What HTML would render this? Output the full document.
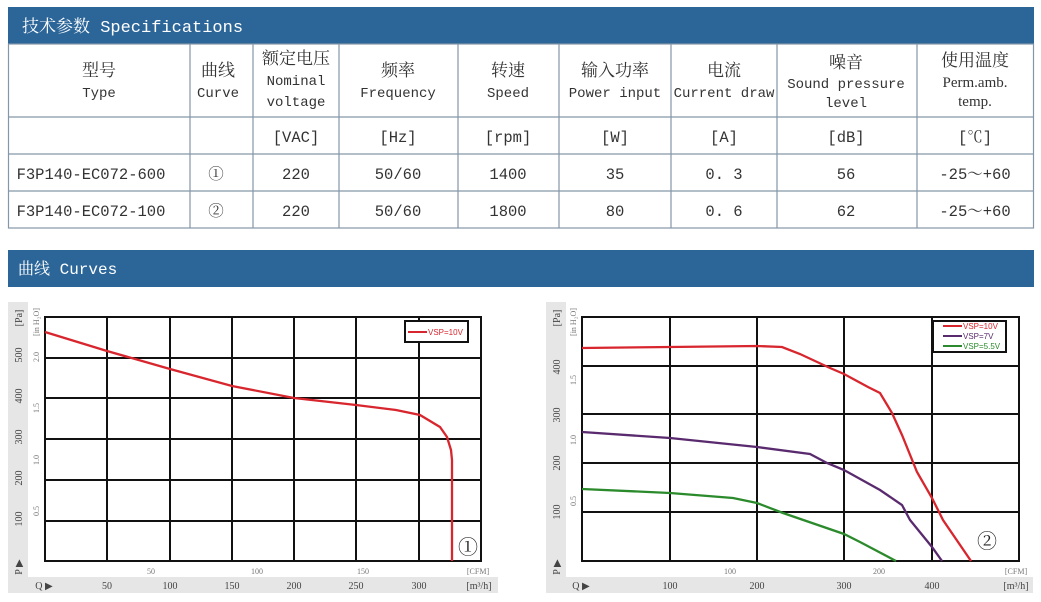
<!DOCTYPE html>
<html><head><meta charset="utf-8"><style>
html,body{margin:0;padding:0;background:#fff;}
svg{display:block}
.m{font-family:"Liberation Mono","Noto Serif CJK SC",monospace;}
.c{font-family:"Liberation Serif","Noto Serif CJK SC",serif;}
.s{font-family:"Liberation Serif",serif;}
</style></head><body>
<svg width="1041" height="602" viewBox="0 0 1041 602" xmlns="http://www.w3.org/2000/svg">
<rect x="8" y="7" width="1026" height="37" fill="#2c6699"/>
<text x="22" y="32" fill="#fff" font-size="17" class="m">技术参数 Specifications</text>
<g stroke="#8496a8" stroke-width="1.2" fill="none">
<rect x="8.5" y="44" width="1025" height="184"/>
<line x1="8" y1="117" x2="1034" y2="117"/><line x1="8" y1="154" x2="1034" y2="154"/><line x1="8" y1="191" x2="1034" y2="191"/>
<line x1="190" y1="44" x2="190" y2="228"/><line x1="253" y1="44" x2="253" y2="228"/><line x1="339" y1="44" x2="339" y2="228"/>
<line x1="458" y1="44" x2="458" y2="228"/><line x1="559" y1="44" x2="559" y2="228"/><line x1="671" y1="44" x2="671" y2="228"/>
<line x1="777" y1="44" x2="777" y2="228"/><line x1="917" y1="44" x2="917" y2="228"/>
</g>
<g fill="#333" text-anchor="middle" class="m" font-size="14">
<text x="99" y="76" font-size="17" class="c">型号</text><text x="99" y="97">Type</text>
<text x="218" y="76" font-size="17" class="c">曲线</text><text x="218" y="97">Curve</text>
<text x="296" y="64" font-size="17" class="c">额定电压</text><text x="296" y="85">Nominal</text><text x="296" y="106">voltage</text>
<text x="398" y="76" font-size="17" class="c">频率</text><text x="398" y="97">Frequency</text>
<text x="508" y="76" font-size="17" class="c">转速</text><text x="508" y="97">Speed</text>
<text x="615" y="76" font-size="17" class="c">输入功率</text><text x="615" y="97">Power input</text>
<text x="724" y="76" font-size="17" class="c">电流</text><text x="724" y="97">Current draw</text>
<text x="846" y="68" font-size="17" class="c">噪音</text><text x="846" y="88">Sound pressure</text><text x="846" y="107">level</text>
<text x="975" y="66" font-size="17" class="c">使用温度</text><text x="975" y="87" class="s" font-size="15">Perm.amb.</text><text x="975" y="106" class="s" font-size="15">temp.</text>
<g font-size="15.5" class="m">
<text x="296" y="142">[VAC]</text><text x="398" y="142">[Hz]</text><text x="508" y="142">[rpm]</text><text x="615" y="142">[W]</text><text x="724" y="142">[A]</text><text x="846" y="142">[dB]</text><text x="975" y="142">[℃]</text>
<text x="91" y="179">F3P140-EC072-600</text><text x="216" y="179">①</text><text x="296" y="179">220</text><text x="398" y="179">50/60</text><text x="508" y="179">1400</text><text x="615" y="179">35</text><text x="724" y="179">0. 3</text><text x="846" y="179">56</text><text x="975" y="179">-25～+60</text>
<text x="91" y="216">F3P140-EC072-100</text><text x="216" y="216">②</text><text x="296" y="216">220</text><text x="398" y="216">50/60</text><text x="508" y="216">1800</text><text x="615" y="216">80</text><text x="724" y="216">0. 6</text><text x="846" y="216">62</text><text x="975" y="216">-25～+60</text>
</g></g>
<rect x="8" y="250" width="1026" height="37" fill="#2c6699"/>
<text x="18" y="274" fill="#fff" font-size="16" class="m">曲线 Curves</text>

<rect x="8" y="302" width="490" height="291" fill="#e6e6e6"/>
<rect x="28" y="302" width="470" height="275" fill="#fff"/>
<rect x="45" y="317" width="436" height="244" fill="#fff" stroke="#111" stroke-width="2"/>
<g stroke="#111" stroke-width="2">
<line x1="107" y1="317" x2="107" y2="561"/><line x1="170" y1="317" x2="170" y2="561"/><line x1="232" y1="317" x2="232" y2="561"/><line x1="294" y1="317" x2="294" y2="561"/><line x1="356" y1="317" x2="356" y2="561"/><line x1="419" y1="317" x2="419" y2="561"/>
<line x1="45" y1="358" x2="481" y2="358"/><line x1="45" y1="398" x2="481" y2="398"/><line x1="45" y1="439" x2="481" y2="439"/><line x1="45" y1="480" x2="481" y2="480"/><line x1="45" y1="521" x2="481" y2="521"/>
</g>
<path d="M45,332 L107,351 L170,369 L232,386 L294,398 L356,405 L396,410 L420,415 L440,427 L447,437 L451,450 L452,460 L452,561" fill="none" stroke="#d8262e" stroke-width="2.3"/>
<rect x="405" y="321" width="63" height="21" fill="#fff" stroke="#111" stroke-width="2"/>
<line x1="408" y1="332" x2="427" y2="332" stroke="#d8262e" stroke-width="2"/>
<text x="428" y="335" font-size="8" fill="#d8262e" font-family="Liberation Sans,sans-serif">VSP=10V</text>
<text x="468" y="554" font-size="20" text-anchor="middle" class="c" fill="#222">①</text>
<g font-size="10" fill="#444" class="s" text-anchor="middle">
<text transform="translate(22,355) rotate(-90)">500</text><text transform="translate(22,396) rotate(-90)">400</text><text transform="translate(22,437) rotate(-90)">300</text><text transform="translate(22,478) rotate(-90)">200</text><text transform="translate(22,519) rotate(-90)">100</text>
<text transform="translate(22,318) rotate(-90)">[Pa]</text><text transform="translate(22,567) rotate(-90)">P ▶</text>
<g font-size="8" fill="#777"><text transform="translate(39,357) rotate(-90)">2.0</text><text transform="translate(39,408) rotate(-90)">1.5</text><text transform="translate(39,460) rotate(-90)">1.0</text><text transform="translate(39,511) rotate(-90)">0.5</text><text transform="translate(39,322) rotate(-90)">[in H₂O]</text>
<text x="151" y="574">50</text><text x="257" y="574">100</text><text x="363" y="574">150</text><text x="478" y="574">[CFM]</text></g>
<text x="107" y="589">50</text><text x="170" y="589">100</text><text x="232" y="589">150</text><text x="294" y="589">200</text><text x="356" y="589">250</text><text x="419" y="589">300</text><text x="479" y="589">[m³/h]</text>
<text x="44" y="589">Q ▶</text>
</g>

<rect x="546" y="302" width="487" height="291" fill="#e6e6e6"/>
<rect x="566" y="302" width="467" height="275" fill="#fff"/>
<rect x="582" y="317" width="437" height="244" fill="#fff" stroke="#111" stroke-width="2"/>
<g stroke="#111" stroke-width="2">
<line x1="670" y1="317" x2="670" y2="561"/><line x1="757" y1="317" x2="757" y2="561"/><line x1="844" y1="317" x2="844" y2="561"/><line x1="932" y1="317" x2="932" y2="561"/>
<line x1="582" y1="366" x2="1019" y2="366"/><line x1="582" y1="414" x2="1019" y2="414"/><line x1="582" y1="463" x2="1019" y2="463"/><line x1="582" y1="512" x2="1019" y2="512"/>
</g>
<path d="M582,348 L670,347 L757,346 L782,347 L800,354 L830,368 L844,374 L868,387 L880,393 L892,413 L902,435 L917,472 L932,498 L943,520 L971,561" fill="none" stroke="#d8262e" stroke-width="2.3"/>
<path d="M582,432 L670,438 L757,447 L810,454 L827,463 L844,470 L880,490 L902,505 L910,520 L932,547 L942,561" fill="none" stroke="#5a2a6e" stroke-width="2.3"/>
<path d="M582,489 L670,493 L733,498 L757,503 L783,513 L844,534 L860,542 L896,561" fill="none" stroke="#2b8a2b" stroke-width="2.3"/>
<rect x="933" y="321" width="73" height="31" fill="#fff" stroke="#111" stroke-width="2"/>
<line x1="943" y1="326" x2="962" y2="326" stroke="#d8262e" stroke-width="2"/><text x="963" y="329" font-size="8" fill="#d8262e" font-family="Liberation Sans,sans-serif">VSP=10V</text>
<line x1="943" y1="336" x2="962" y2="336" stroke="#5a2a6e" stroke-width="2"/><text x="963" y="339" font-size="8" fill="#5a2a6e" font-family="Liberation Sans,sans-serif">VSP=7V</text>
<line x1="943" y1="346" x2="962" y2="346" stroke="#2b8a2b" stroke-width="2"/><text x="963" y="349" font-size="8" fill="#2b8a2b" font-family="Liberation Sans,sans-serif">VSP=5.5V</text>
<text x="987" y="548" font-size="20" text-anchor="middle" class="c" fill="#222">②</text>
<g font-size="10" fill="#444" class="s" text-anchor="middle">
<text transform="translate(560,367) rotate(-90)">400</text><text transform="translate(560,415) rotate(-90)">300</text><text transform="translate(560,463) rotate(-90)">200</text><text transform="translate(560,512) rotate(-90)">100</text>
<text transform="translate(560,318) rotate(-90)">[Pa]</text><text transform="translate(560,567) rotate(-90)">P ▶</text>
<g font-size="8" fill="#777"><text transform="translate(576,380) rotate(-90)">1.5</text><text transform="translate(576,440) rotate(-90)">1.0</text><text transform="translate(576,501) rotate(-90)">0.5</text><text transform="translate(576,322) rotate(-90)">[in H₂O]</text>
<text x="730" y="574">100</text><text x="879" y="574">200</text><text x="1016" y="574">[CFM]</text></g>
<text x="670" y="589">100</text><text x="757" y="589">200</text><text x="844" y="589">300</text><text x="932" y="589">400</text><text x="1016" y="589">[m³/h]</text>
<text x="581" y="589">Q ▶</text>
</g>
</svg>
</body></html>
